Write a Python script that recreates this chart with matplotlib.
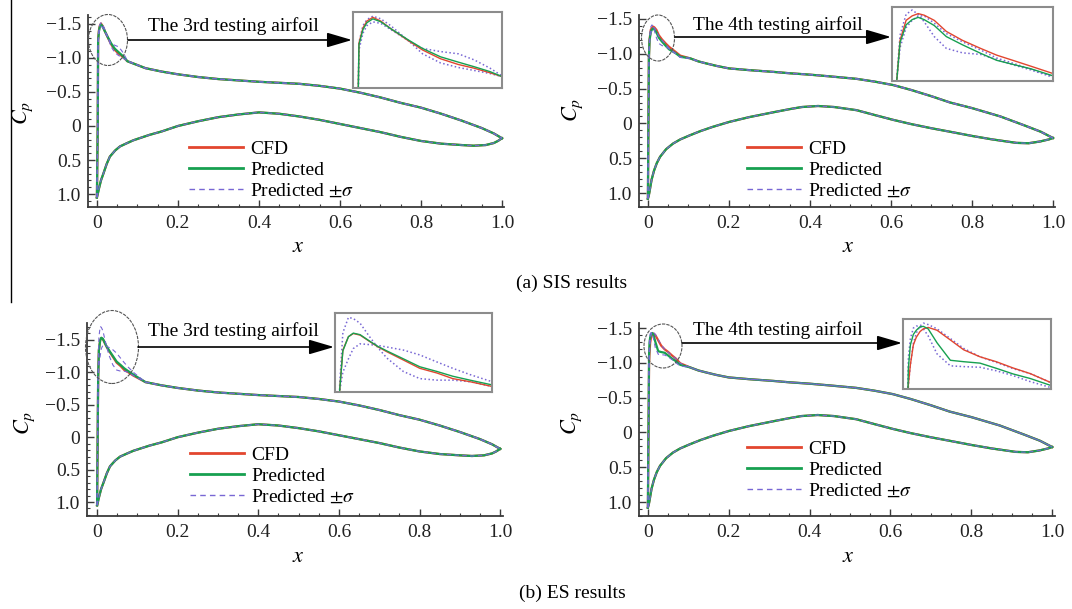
import matplotlib.pyplot as plt
import matplotlib.ticker as mticker
from matplotlib.patches import Ellipse, FancyArrowPatch
from matplotlib.lines import Line2D

plt.rcParams['font.family'] = 'serif'
plt.rcParams['font.serif'] = ['Liberation Serif', 'DejaVu Serif']
plt.rcParams['mathtext.fontset'] = 'stix'

# ---------------- data ----------------
# 3rd testing airfoil: upper surface behind the leading-edge zoom, lower surface
up3_x = [0.12, 0.16, 0.20, 0.25, 0.30, 0.35, 0.40, 0.45, 0.50, 0.55, 0.60, 0.65, 0.70,
         0.75, 0.80, 0.85, 0.90, 0.95, 0.98, 1.00]
up3_cp = [-0.85, -0.80, -0.76, -0.72, -0.69, -0.67, -0.65, -0.635, -0.62, -0.59, -0.55, -0.49, -0.42,
          -0.34, -0.27, -0.18, -0.08, 0.03, 0.11, 0.18]
lo3_x = [0.0, 0.002, 0.005, 0.010, 0.016, 0.024, 0.032, 0.045, 0.057, 0.075, 0.09, 0.11, 0.13, 0.16,
         0.20, 0.25, 0.30, 0.35, 0.40, 0.45, 0.50, 0.55, 0.60, 0.65, 0.70, 0.75, 0.80, 0.85,
         0.90, 0.93, 0.96, 0.98, 0.99, 1.00]
lo3_cp = [1.05, 1.00, 0.92, 0.80, 0.70, 0.56, 0.45, 0.36, 0.30, 0.25, 0.21, 0.17, 0.13, 0.08,
          0.00, -0.07, -0.13, -0.17, -0.20, -0.18, -0.14, -0.09, -0.03, 0.03, 0.09, 0.16, 0.22, 0.26,
          0.28, 0.29, 0.28, 0.25, 0.22, 0.18]

# 4th testing airfoil
up4_x = [0.104, 0.125, 0.145, 0.17, 0.20, 0.25, 0.31, 0.35, 0.40, 0.45, 0.515, 0.56, 0.606, 0.65,
         0.70, 0.746, 0.80, 0.87, 0.93, 0.97, 1.00]
up4_cp = [-0.935, -0.89, -0.86, -0.825, -0.79, -0.765, -0.74, -0.72, -0.70, -0.675, -0.64, -0.60, -0.55, -0.48,
          -0.39, -0.30, -0.22, -0.10, 0.03, 0.12, 0.21]
lo4_x = [0.0, 0.002, 0.004, 0.009, 0.015, 0.022, 0.03, 0.045, 0.062, 0.08, 0.104, 0.13, 0.16, 0.20,
         0.25, 0.31, 0.35, 0.38, 0.42, 0.46, 0.515, 0.56, 0.606, 0.65, 0.70, 0.746, 0.80, 0.85, 0.91,
         0.94, 0.968, 0.99, 1.00]
lo4_cp = [1.08, 1.04, 0.98, 0.81, 0.68, 0.57, 0.48, 0.37, 0.29, 0.23, 0.17, 0.11, 0.05, -0.02,
          -0.09, -0.16, -0.205, -0.235, -0.25, -0.235, -0.19, -0.12, -0.05, 0.01, 0.07, 0.12, 0.18, 0.23, 0.28,
          0.285, 0.26, 0.23, 0.21]

# leading-edge region (shown in the insets), upper surface
# (a) SIS, 3rd airfoil
le_a3_x = [0.0, 0.002, 0.003, 0.005, 0.007, 0.010, 0.014, 0.019, 0.028, 0.035, 0.044, 0.053, 0.061, 0.069, 0.075]
le_a3_cfd = [1.05, 0.0, -1.266, -1.408, -1.472, -1.507, -1.472, -1.401, -1.287, -1.202, -1.120, -1.066, -1.031, -0.988, -0.953]
le_a3_pred = [1.05, 0.0, -1.251, -1.393, -1.457, -1.493, -1.465, -1.401, -1.294, -1.216, -1.138, -1.088, -1.045, -0.999, -0.953]
le_a3_sig1 = [1.05, 0.0, -1.273, -1.429, -1.486, -1.518, -1.493, -1.429, -1.287, -1.166, -1.081, -1.038, -1.010, -0.981, -0.953]
le_a3_sig2 = [1.05, 0.1, -1.202, -1.358, -1.429, -1.465, -1.450, -1.393, -1.287, -1.216, -1.187, -1.166, -1.109, -1.031, -0.960]

# (a) SIS, 4th airfoil
le_a4_x = [0.0, 0.0024, 0.004, 0.007, 0.010, 0.013, 0.016, 0.021, 0.027, 0.035, 0.044, 0.052, 0.060, 0.069, 0.080]
le_a4_cfd = [1.08, -0.93, -1.204, -1.343, -1.374, -1.390, -1.379, -1.343, -1.266, -1.204, -1.148, -1.101, -1.065, -1.024, -0.973]
le_a4_pred = [1.08, -0.93, -1.189, -1.312, -1.348, -1.364, -1.348, -1.307, -1.230, -1.173, -1.114, -1.065, -1.037, -1.006, -0.957]
le_a4_sig1 = [1.08, -0.95, -1.240, -1.385, -1.415, -1.385, -1.333, -1.230, -1.148, -1.117, -1.106, -1.070, -1.034, -0.998, -0.947]
le_a4_sig2 = [1.08, -0.93, -1.153, -1.292, -1.343, -1.374, -1.374, -1.323, -1.251, -1.194, -1.137, -1.081, -1.045, -1.003, -0.952]

# (b) ES, 3rd airfoil
le_b3_x = [0.0, 0.0027, 0.0045, 0.0077, 0.0105, 0.0144, 0.0198, 0.0243, 0.0297, 0.0392, 0.0486, 0.0585, 0.0675, 0.0774, 0.090]
le_b3_cfd = [1.05, -0.915, -1.349, -1.496, -1.531, -1.513, -1.444, -1.388, -1.331, -1.240, -1.149, -1.097, -1.036, -1.002, -0.950]
le_b3_pred = [1.05, -0.915, -1.340, -1.496, -1.535, -1.518, -1.448, -1.392, -1.340, -1.253, -1.166, -1.114, -1.062, -1.019, -0.967]
le_b3_sig1 = [1.05, -0.976, -1.539, -1.708, -1.695, -1.643, -1.496, -1.383, -1.262, -1.114, -1.036, -1.019, -1.019, -1.002, -0.950]
le_b3_sig2 = [1.05, -0.90, -1.106, -1.253, -1.366, -1.418, -1.409, -1.401, -1.383, -1.349, -1.296, -1.218, -1.149, -1.080, -1.002]

# (b) ES, 4th airfoil
le_b4_x = [0.0, 0.0029, 0.004, 0.0056, 0.0072, 0.0092, 0.011, 0.0136, 0.0184, 0.0256, 0.0328, 0.0416, 0.0504, 0.0596, 0.0688, 0.080]
le_b4_cfd = [1.08, -0.976, -1.133, -1.285, -1.344, -1.388, -1.409, -1.420, -1.398, -1.323, -1.247, -1.193, -1.155, -1.106, -1.063, -0.993]
le_b4_pred = [1.08, -1.106, -1.285, -1.366, -1.398, -1.425, -1.428, -1.409, -1.301, -1.166, -1.155, -1.144, -1.104, -1.060, -1.025, -0.971]
le_b4_sig1 = [1.08, -0.971, -1.133, -1.296, -1.377, -1.431, -1.453, -1.442, -1.409, -1.334, -1.258, -1.193, -1.150, -1.101, -1.063, -0.993]
le_b4_sig2 = [1.08, -1.187, -1.334, -1.415, -1.431, -1.425, -1.409, -1.355, -1.215, -1.123, -1.117, -1.112, -1.085, -1.047, -1.001, -0.955]

x_ticks = [0, 0.2, 0.4, 0.6, 0.8, 1.0]
x_ticklabels = ['0', '0.2', '0.4', '0.6', '0.8', '1.0']
y_ticks = [-1.5, -1.0, -0.5, 0, 0.5, 1.0]
y_ticklabels = ['\u22121.5', '\u22121.0', '\u22120.5', '0', '0.5', '1.0']
series_labels = ['CFD', 'Predicted', r'Predicted $\pm\sigma$']

RED = '#e2462f'
GREEN = '#17a050'
PURPLE = '#7867d4'
W, H = 1072, 609


def fbox(l, t, r, b):
    return [l / W, 1 - b / H, (r - l) / W, (b - t) / H]


def fpt(x, y):
    return (x / W, 1 - y / H)


panels = [
    dict(box=(88, 15, 504, 207), xlim=(-0.022, 1.005), ylim=(1.191, -1.632),
         le_x=le_a3_x, cfd=le_a3_cfd, pred=le_a3_pred, sig1=le_a3_sig1, sig2=le_a3_sig2,
         up_x=up3_x, up_cp=up3_cp, lo_x=lo3_x, lo_cp=lo3_cp,
         inset=(353, 12, 502, 88), in_xlim=(0, 0.075), in_ylim=(-0.846, -1.557),
         ell=(108, 40, 39, 51), arrow=(128, 352, 40), title='The 3rd testing airfoil', tpos=(233, 26),
         leg=(189, 147), cp_lab=(23, 113), x_lab=(298, 248)),
    dict(box=(639, 15, 1055, 207), xlim=(-0.022, 1.005), ylim=(1.201, -1.557),
         le_x=le_a4_x, cfd=le_a4_cfd, pred=le_a4_pred, sig1=le_a4_sig1, sig2=le_a4_sig2,
         up_x=up4_x, up_cp=up4_cp, lo_x=lo4_x, lo_cp=lo4_cp,
         inset=(892, 7, 1053, 81), in_xlim=(0, 0.08), in_ylim=(-0.921, -1.436),
         ell=(658, 38, 33, 46), arrow=(675, 891, 37), title='The 4th testing airfoil', tpos=(778, 25),
         leg=(747, 147), cp_lab=(573, 110), x_lab=(848, 248)),
    dict(box=(87, 323, 503, 516), xlim=(-0.025, 1.007), ylim=(1.216, -1.762),
         le_x=le_b3_x, cfd=le_b3_cfd, pred=le_b3_pred, sig1=le_b3_sig1, sig2=le_b3_sig2,
         up_x=up3_x, up_cp=up3_cp, lo_x=lo3_x, lo_cp=lo3_cp,
         inset=(335, 313, 492, 392), in_xlim=(0, 0.09), in_ylim=(-0.889, -1.756),
         ell=(112, 347, 53, 73), arrow=(138, 334, 347), title='The 3rd testing airfoil', tpos=(233, 331),
         leg=(190, 453), cp_lab=(25, 423), x_lab=(298, 558)),
    dict(box=(639, 323, 1055, 516), xlim=(-0.022, 1.007), ylim=(1.201, -1.572),
         le_x=le_b4_x, cfd=le_b4_cfd, pred=le_b4_pred, sig1=le_b4_sig1, sig2=le_b4_sig2,
         up_x=up4_x, up_cp=up4_cp, lo_x=lo4_x, lo_cp=lo4_cp,
         inset=(903, 319, 1051, 389), in_xlim=(0, 0.08), in_ylim=(-0.944, -1.485),
         ell=(663, 346, 38, 44), arrow=(682, 902, 343), title='The 4th testing airfoil', tpos=(778, 330),
         leg=(747, 447), cp_lab=(572, 423), x_lab=(848, 558)),
]

fig = plt.figure(figsize=(W / 100, H / 100), dpi=100)

for p in panels:
    ax = fig.add_axes(fbox(*p['box']))
    xs = p['le_x'] + p['up_x']
    # main curves: upper surface (leading edge + aft) and lower surface
    ax.plot(xs, p['cfd'] + p['up_cp'], color=RED, lw=1.6)
    ax.plot(p['lo_x'], p['lo_cp'], color=RED, lw=1.6)
    ax.plot(xs, p['pred'] + p['up_cp'], color=GREEN, lw=1.6)
    ax.plot(p['lo_x'], p['lo_cp'], color=GREEN, lw=1.6)
    for key in ['sig1', 'sig2']:
        ax.plot(xs, p[key] + p['up_cp'], color=PURPLE, lw=0.8, ls=(0, (4, 3)))
    ax.plot(p['lo_x'], p['lo_cp'], color=PURPLE, lw=0.8, ls=(0, (4, 3)))

    ax.set_xlim(*p['xlim'])
    ax.set_ylim(*p['ylim'])
    ax.set_xticks(x_ticks)
    ax.set_xticklabels(x_ticklabels)
    ax.set_yticks(y_ticks)
    ax.set_yticklabels(y_ticklabels)
    ax.xaxis.set_minor_locator(mticker.MultipleLocator(0.05))
    ax.yaxis.set_minor_locator(mticker.MultipleLocator(0.1))
    ax.tick_params(which='both', direction='in', top=False, right=False,
                   labelsize=14, color='#3a3a3a', labelcolor='#222222')
    ax.tick_params(which='major', length=5, width=1)
    ax.tick_params(which='minor', length=2.5, width=0.8)
    ax.tick_params(axis='x', pad=6)
    ax.tick_params(axis='y', pad=5)
    ax.spines[['top', 'right']].set_visible(False)
    for s in ['left', 'bottom']:
        ax.spines[s].set_linewidth(1.3)
        ax.spines[s].set_color('#3a3a3a')
    ax.patch.set_alpha(0)

    # zoomed leading-edge inset
    ins = fig.add_axes(fbox(*p['inset']))
    for key in ['sig1', 'sig2']:
        ins.plot(xs, p[key] + p['up_cp'], color=PURPLE, lw=1.1, ls=(0, (1, 1.6)))
    ins.plot(xs, p['cfd'] + p['up_cp'], color=RED, lw=1.0)
    ins.plot(xs, p['pred'] + p['up_cp'], color=GREEN, lw=1.0)
    ins.set_xlim(*p['in_xlim'])
    ins.set_ylim(*p['in_ylim'])
    ins.set_xticks([])
    ins.set_yticks([])
    for s in ins.spines.values():
        s.set_color('#8c8c8c')
        s.set_linewidth(1.5)

    cx, cy, ew, eh = p['ell']
    fig.add_artist(Ellipse(fpt(cx, cy), ew / W, eh / H, transform=fig.transFigure,
                           fill=False, ec='#555555', lw=0.8, ls=(0, (3, 1))))
    x0, x1, ya = p['arrow']
    fig.add_artist(FancyArrowPatch(fpt(x0, ya), fpt(x1, ya), transform=fig.transFigure,
                                   arrowstyle='-|>,head_length=0.85,head_width=0.25',
                                   mutation_scale=18, color='black', lw=1.2,
                                   shrinkA=0, shrinkB=0))
    fig.text(*fpt(*p['tpos']), p['title'], ha='center', va='center', fontsize=14)

    handles = [Line2D([], [], color=RED, lw=2),
               Line2D([], [], color=GREEN, lw=2),
               Line2D([], [], color=PURPLE, lw=1, ls=(0, (4, 3)))]
    lx, ly = p['leg']
    fig.legend(handles, series_labels, loc='upper left', bbox_to_anchor=fpt(lx, ly - 7),
               frameon=False, fontsize=14, handlelength=2.8, handletextpad=0.35,
               labelspacing=0.18, borderpad=0, borderaxespad=0)

    fig.text(*fpt(*p['cp_lab']), r'$C_p$', rotation=90, ha='center', va='center', fontsize=16)
    fig.text(*fpt(*p['x_lab']), r'$x$', ha='center', va='center', fontsize=16)

fig.text(*fpt(572, 283), '(a) SIS results', ha='center', va='center', fontsize=14)
fig.text(*fpt(572, 593), '(b) ES results', ha='center', va='center', fontsize=14)
fig.add_artist(Line2D([10.5 / W] * 2, [1, 1 - 302 / H], transform=fig.transFigure,
                      color='black', lw=1))

fig.savefig('out.png', dpi=100)
